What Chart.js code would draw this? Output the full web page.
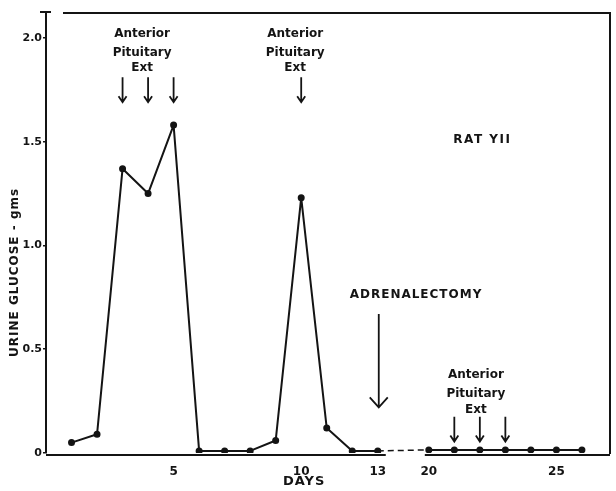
<!DOCTYPE html>
<html>
<head>
<meta charset="utf-8">
<script src="https://cdn.jsdelivr.net/npm/chart.js@4/dist/chart.umd.min.js"></script>
<style>
  html, body { margin: 0; padding: 0; background: #fff; }
  #wrap { width: 616px; height: 491px; }
</style>
</head>
<body>
<div id="wrap"><canvas id="chart"></canvas></div>
<script>
// Rat YII: urine glucose (gms) per day. Axis is broken between day 13 and day 20.
const days = [1, 2, 3, 4, 5, 6, 7, 8, 9, 10, 11, 12, 13, 20, 21, 22, 23, 24, 25, 26];
const glucose = [0.05, 0.09, 1.37, 1.25, 1.58, 0.01, 0.01, 0.01, 0.06, 1.23, 0.12, 0.01, 0.01,
  0.015, 0.015, 0.015, 0.015, 0.015, 0.015, 0.015];
const yTicks = [0, 0.5, 1.0, 1.5, 2.0];
const yTickLabels = ['0', '0.5', '1.0', '1.5', '2.0'];
const xTickDays = [5, 10, 13, 20, 25];
const extractDays = [3, 4, 5, 10, 21, 22, 23];
const adrenalectomyDay = 13;

// days 14..19 are squeezed out of the axis
const breakAfter = 13;
const breakSkip = 5;
const axisPos = function (d) { return d > breakAfter ? d - breakSkip : d; };
const axisDay = function (p) { return p > breakAfter ? p + breakSkip : p; };

const ink = '#141414';
const handFont = '"DejaVu Sans", sans-serif';

const points = days.map(function (d, i) { return { x: axisPos(d), y: glucose[i] }; });
const gapIndex = days.indexOf(breakAfter);

const drawings = {
  id: 'drawings',
  afterDraw: function (chart) {
    const ctx = chart.ctx;
    const xs = chart.scales.x;
    const ys = chart.scales.y;
    const area = chart.chartArea;
    const px = function (d) { return xs.getPixelForValue(axisPos(d)); };
    const py = function (v) { return ys.getPixelForValue(v); };

    ctx.save();
    ctx.strokeStyle = ink;
    ctx.fillStyle = ink;
    ctx.lineWidth = 2;

    // frame: top and right edges, broken x axis
    ctx.beginPath();
    ctx.moveTo(area.left + 17, area.top);
    ctx.lineTo(area.right, area.top);
    ctx.lineTo(area.right, area.bottom + 1);
    ctx.moveTo(area.left - 6, area.top - 1);
    ctx.lineTo(area.left + 5, area.top - 1);
    ctx.moveTo(area.left, area.bottom + 2);
    ctx.lineTo(px(breakAfter) + 8, area.bottom + 2);
    ctx.moveTo(px(20) - 4, area.bottom + 2);
    ctx.lineTo(area.right, area.bottom + 2);
    ctx.stroke();

    const arrow = function (x, y1, y2, hw, hh) {
      ctx.beginPath();
      ctx.moveTo(x, py(y1));
      ctx.lineTo(x, py(y2));
      ctx.moveTo(x - hw, py(y2) - hh);
      ctx.lineTo(x, py(y2));
      ctx.lineTo(x + hw, py(y2) - hh);
      ctx.stroke();
    };
    const label = function (lines, x, ys0, size, spacing) {
      ctx.font = 'bold ' + size + 'px ' + handFont;
      ctx.letterSpacing = spacing || '0px';
      ctx.textAlign = 'center';
      ctx.textBaseline = 'middle';
      lines.forEach(function (t, i) { ctx.fillText(t, x, py(ys0[i])); });
    };

    // extract injections
    ctx.lineWidth = 1.8;
    extractDays.forEach(function (d) {
      if (d < 20) {
        arrow(px(d), 1.81, 1.69, 4, 6);
      }
      else {
        arrow(px(d), 0.175, 0.055, 4, 6);
      }
    });
    const textRows = [2.02, 1.93, 1.855];
    label(['Anterior', 'Pituitary', 'Ext'], px(4) - 6, textRows, 12);
    label(['Anterior', 'Pituitary', 'Ext'], px(10) - 6, textRows, 12);
    label(['Anterior', 'Pituitary', 'Ext'], px(22) - 4, [0.375, 0.285, 0.21], 12);

    // adrenalectomy
    arrow(px(adrenalectomyDay) + 1, 0.67, 0.22, 9, 10);
    label(['ADRENALECTOMY'], xs.getPixelForValue(14.5), [0.76], 12, '1px');

    label(['RAT YII'], xs.getPixelForValue(17.1), [1.51], 12, '1.5px');

    // axis titles
    label(['DAYS'], px(10) + 3, [-0.14], 13, '1px');
    ctx.save();
    ctx.translate(15, py(0.87));
    ctx.rotate(-Math.PI / 2);
    ctx.font = 'bold 12px ' + handFont;
    ctx.letterSpacing = '1px';
    ctx.textAlign = 'center';
    ctx.textBaseline = 'middle';
    ctx.fillText('URINE GLUCOSE - gms', 0, 0);
    ctx.restore();

    ctx.restore();
  }
};

new Chart(document.getElementById('chart'), {
  type: 'line',
  data: {
    datasets: [{
      data: points,
      borderColor: ink,
      borderWidth: 2,
      borderJoinStyle: 'round',
      pointRadius: 2.5,
      pointBackgroundColor: ink,
      pointBorderColor: ink,
      tension: 0,
      segment: {
        borderDash: function (c) { return c.p0DataIndex === gapIndex ? [6, 4] : undefined; },
        borderWidth: function (c) { return c.p0DataIndex === gapIndex ? 1.5 : undefined; }
      }
    }]
  },
  options: {
    responsive: true,
    maintainAspectRatio: false,
    animation: false,
    layout: { padding: { top: 13, right: 4, left: 0, bottom: 0 } },
    plugins: {
      legend: { display: false },
      tooltip: { enabled: false }
    },
    scales: {
      x: {
        type: 'linear',
        min: 0,
        max: 22.1,
        afterFit: function (s) { s.height = 38; },
        afterBuildTicks: function (s) {
          s.ticks = xTickDays.map(function (d) { return { value: axisPos(d) }; });
        },
        ticks: {
          color: ink,
          padding: 4,
          maxRotation: 0,
          autoSkip: false,
          font: { family: handFont, size: 12, weight: 'bold' },
          callback: function (v) { return String(axisDay(v)); }
        },
        grid: { display: false },
        border: { display: false }
      },
      y: {
        min: 0,
        max: 2.12,
        afterFit: function (s) { s.width = 46; },
        afterBuildTicks: function (s) {
          s.ticks = yTicks.map(function (v) { return { value: v }; });
        },
        ticks: {
          color: ink,
          padding: 1,
          font: { family: handFont, size: 11, weight: 'bold' },
          callback: function (v) { return yTickLabels[yTicks.indexOf(v)]; }
        },
        grid: { display: true, drawOnChartArea: false, drawTicks: true, tickLength: 3, color: ink, lineWidth: 1.5 },
        border: { display: true, color: ink, width: 2 }
      }
    }
  },
  plugins: [drawings]
});
</script>
</body>
</html>
